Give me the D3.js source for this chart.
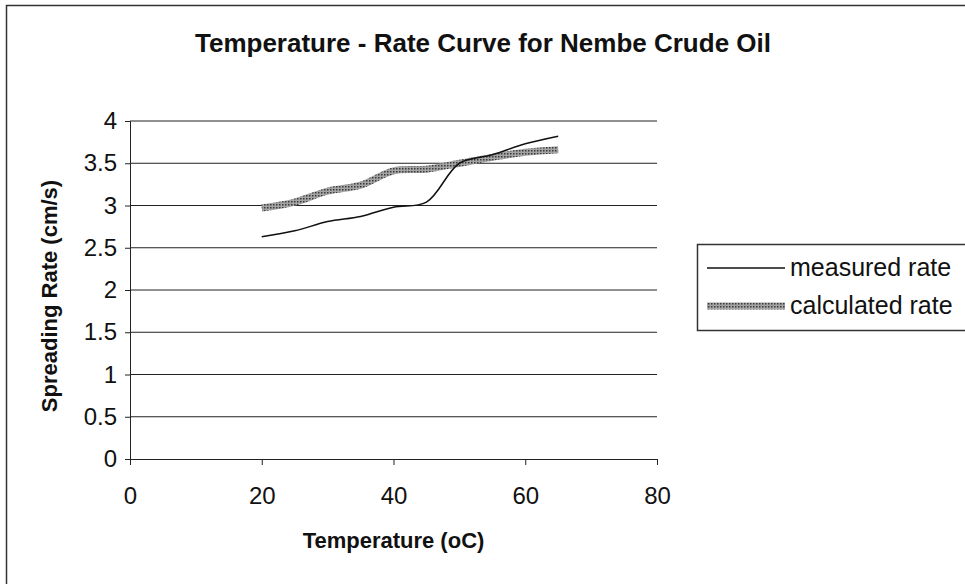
<!DOCTYPE html>
<html>
<head>
<meta charset="utf-8">
<script src="https://cdn.jsdelivr.net/npm/d3@7"></script>
<style>
	body { margin: 0; background: #fff; }
	text { font-family: "Liberation Sans", Arial, sans-serif; fill: #111; }
</style>
</head>
<body>
<script>
// Temperatures (oC) and the two spreading rate series (cm/s)
var temperature = [20, 25, 30, 35, 40, 45, 50, 55, 60, 65];
var measuredRate = [2.63, 2.70, 2.81, 2.87, 2.98, 3.04, 3.50, 3.60, 3.73, 3.82];
var calculatedRate = [2.97, 3.04, 3.17, 3.24, 3.41, 3.43, 3.50, 3.57, 3.63, 3.66];
var xTicks = [0, 20, 40, 60, 80];
var yTicks = [0, 0.5, 1, 1.5, 2, 2.5, 3, 3.5, 4];
var seriesNames = ["measured rate", "calculated rate"];

var width = 965;
var height = 584;
var plot = { left: 130, right: 657, top: 121, bottom: 459 };

var svg = d3.select("body")
	.append("svg")
		.attr("width", width)
		.attr("height", height);

// Textured fill used for the thick "calculated" line
var pat = svg.append("defs")
	.append("pattern")
		.attr("id", "hatch")
		.attr("patternUnits", "userSpaceOnUse")
		.attr("width", 3)
		.attr("height", 3);
pat.append("rect").attr("width", 3).attr("height", 3).attr("fill", "#a4a4a4");
pat.append("rect").attr("width", 1.5).attr("height", 1.5).attr("fill", "#3a3a3a");

// Outer chart border (right and bottom run off the picture)
svg.append("rect")
	.attr("x", 6.5)
	.attr("y", 5.5)
	.attr("width", 1000)
	.attr("height", 1000)
	.attr("fill", "none")
	.attr("stroke", "#333")
	.attr("stroke-width", 1.5);

var x = d3.scaleLinear().domain([0, 80]).range([plot.left, plot.right]);
var y = d3.scaleLinear().domain([0, 4]).range([plot.bottom, plot.top]);

// Horizontal gridlines
svg.append("g")
	.selectAll("line")
		.data(yTicks.filter(function(d) { return d > 0; }))
		.enter().append("line")
			.attr("x1", plot.left)
			.attr("x2", plot.right)
			.attr("y1", function(d) { return y(d); })
			.attr("y2", function(d) { return y(d); })
			.attr("stroke", "#222")
			.attr("stroke-width", 1);

var xAxis = svg.append("g")
	.attr("transform", "translate(0," + plot.bottom + ")")
	.call(d3.axisBottom(x).tickValues(xTicks).tickSize(6).tickPadding(22));

var yAxis = svg.append("g")
	.attr("transform", "translate(" + plot.left + ",0)")
	.call(d3.axisLeft(y).tickValues(yTicks).tickSize(5).tickPadding(8)
		.tickFormat(function(d) { return d; }));

[xAxis, yAxis].forEach(function(a) {
	a.select(".domain").attr("stroke", "#222");
	a.selectAll(".tick line").attr("stroke", "#222");
	a.selectAll("text")
		.attr("font-size", 24)
		.attr("fill", "#111")
		.attr("font-family", "Liberation Sans, Arial, sans-serif");
});

var line = d3.line()
	.x(function(d) { return x(d[0]); })
	.y(function(d) { return y(d[1]); })
	.curve(d3.curveCatmullRom.alpha(0.5));

svg.append("path")
	.datum(d3.zip(temperature, calculatedRate))
	.attr("d", line)
	.attr("fill", "none")
	.attr("stroke", "url(#hatch)")
	.attr("stroke-width", 7);

svg.append("path")
	.datum(d3.zip(temperature, measuredRate))
	.attr("d", line)
	.attr("fill", "none")
	.attr("stroke", "#111")
	.attr("stroke-width", 1.5);

// Titles
svg.append("text")
	.attr("x", 483)
	.attr("y", 52)
	.attr("text-anchor", "middle")
	.attr("font-size", 26)
	.attr("font-weight", "bold")
	.text("Temperature - Rate Curve for Nembe Crude Oil");

svg.append("text")
	.attr("x", (plot.left + plot.right) / 2)
	.attr("y", 548)
	.attr("text-anchor", "middle")
	.attr("font-size", 22)
	.attr("font-weight", "bold")
	.text("Temperature (oC)");

svg.append("text")
	.attr("transform", "translate(57,296) rotate(-90)")
	.attr("text-anchor", "middle")
	.attr("font-size", 22)
	.attr("font-weight", "bold")
	.text("Spreading Rate (cm/s)");

// Legend
var legend = svg.append("g");
legend.append("rect")
	.attr("x", 697.5)
	.attr("y", 244.5)
	.attr("width", 300)
	.attr("height", 86)
	.attr("fill", "#fff")
	.attr("stroke", "#333")
	.attr("stroke-width", 1.5);

var items = legend.selectAll("g")
	.data(seriesNames)
	.enter().append("g")
		.attr("transform", function(d, i) { return "translate(0," + (268 + i * 38) + ")"; });

items.append("line")
	.attr("x1", 707)
	.attr("x2", 785)
	.attr("stroke", function(d, i) { return i === 0 ? "#111" : "url(#hatch)"; })
	.attr("stroke-width", function(d, i) { return i === 0 ? 1.5 : 7; });

items.append("text")
	.attr("x", 790)
	.attr("y", 8)
	.attr("font-size", 25)
	.text(function(d) { return d; });
</script>
</body>
</html>
